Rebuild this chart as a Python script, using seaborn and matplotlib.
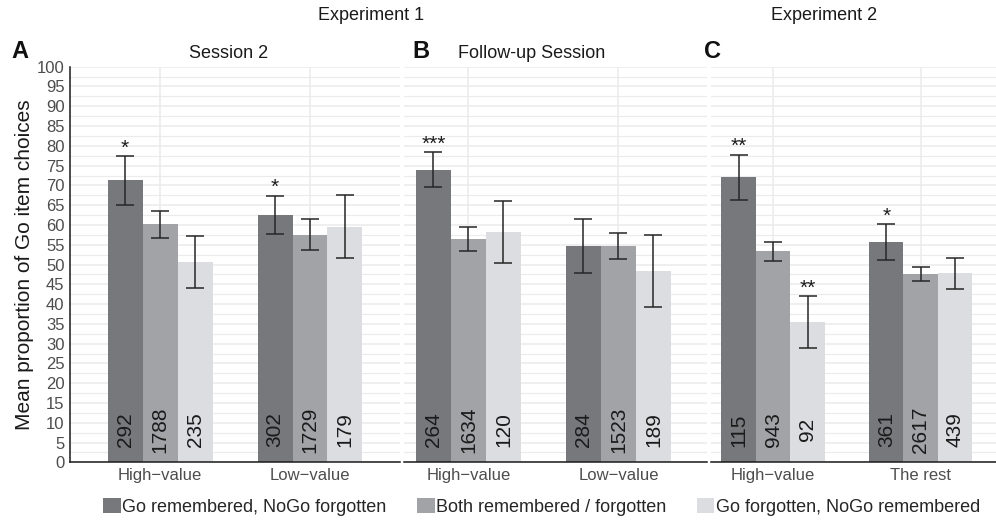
import numpy as np
import pandas as pd
import matplotlib
matplotlib.use('Agg')
import matplotlib.pyplot as plt
from matplotlib.patches import Patch
import seaborn as sns

# --- data ---
conditions = ["Go remembered, NoGo forgotten",
              "Both remembered / forgotten",
              "Go forgotten, NoGo remembered"]
bar_colors = ["#77787c", "#a2a3a7", "#dcdde0"]

groups_exp1 = ["High\u2212value", "Low\u2212value"]
groups_exp2 = ["High\u2212value", "The rest"]

# rows = condition, columns = group
session2_means = [[71.3, 62.5], [60.2, 57.5], [50.6, 59.6]]
session2_err = [[6.2, 4.9], [3.4, 3.9], [6.5, 8.0]]
session2_n = [[292, 302], [1788, 1729], [235, 179]]
session2_stars = [["*", "*"], ["", ""], ["", ""]]

followup_means = [[74.0, 54.7], [56.4, 54.7], [58.3, 48.4]]
followup_err = [[4.5, 6.9], [3.1, 3.3], [7.8, 9.1]]
followup_n = [[264, 284], [1634, 1523], [120, 189]]
followup_stars = [["***", ""], ["", ""], ["", ""]]

exp2_means = [[72.1, 55.7], [53.4, 47.6], [35.5, 47.8]]
exp2_err = [[5.7, 4.6], [2.4, 1.7], [6.5, 3.9]]
exp2_n = [[115, 361], [943, 2617], [92, 439]]
exp2_stars = [["**", "*"], ["", ""], ["**", ""]]

sns.set_style("white")
plt.rcParams['font.family'] = ['Liberation Sans', 'DejaVu Sans']

GRID = "#ebebeb"
TICK_GREY = "#4d4d4d"


def draw_panel(ax, groups, means, errs, counts, stars, xlim, show_y):
    rows = []
    for ci, cond in enumerate(conditions):
        for gi, g in enumerate(groups):
            rows.append({"group": g, "condition": cond, "value": means[ci][gi]})
    df = pd.DataFrame(rows)

    sns.barplot(data=df, x="group", y="value", hue="condition",
                order=groups, hue_order=conditions, palette=bar_colors,
                saturation=1, width=0.7, errorbar=None, legend=False,
                linewidth=0, ax=ax)

    bar_containers = list(ax.containers)
    for ci, cont in enumerate(bar_containers):
        for gi, bar in enumerate(cont):
            xc = bar.get_x() + bar.get_width() / 2
            m = means[ci][gi]
            e = errs[ci][gi]
            ax.errorbar(xc, m, yerr=e, fmt="none", ecolor="#262626",
                        elinewidth=1.1, capsize=6.5, capthick=1.1, zorder=4)
            ax.text(xc, 8.2, str(counts[ci][gi]), rotation=90,
                    ha="center", va="center", fontsize=15, color="#1a1a1a",
                    zorder=5)
            if stars[ci][gi]:
                ax.text(xc, m + e + 0.6, stars[ci][gi], ha="center",
                        va="baseline", fontsize=15, color="#1a1a1a",
                        zorder=5)

    ax.set_xlim(*xlim)
    ax.set_ylim(0, 100)
    ax.set_yticks(np.arange(0, 101, 5))
    ax.set_yticks(np.arange(2.5, 100, 5), minor=True)
    ax.set_axisbelow(True)
    ax.grid(which="major", axis="both", color=GRID, linewidth=1.1)
    ax.grid(which="minor", axis="y", color=GRID, linewidth=0.8)
    ax.tick_params(which="minor", length=0)
    ax.tick_params(axis="x", length=3, color="#333333", labelsize=12,
                   labelcolor=TICK_GREY, pad=1)
    ax.set_xlabel("")
    sns.despine(ax=ax, top=True, right=True, left=not show_y)
    ax.spines["bottom"].set_color("#1a1a1a")
    ax.spines["bottom"].set_linewidth(1.1)
    if show_y:
        ax.spines["left"].set_color("#1a1a1a")
        ax.spines["left"].set_linewidth(1.1)
        ax.tick_params(axis="y", length=3, color="#333333", labelsize=12,
                       labelcolor=TICK_GREY, pad=1)
        ax.set_ylabel("Mean proportion of Go item choices", fontsize=15,
                      color="#1a1a1a", labelpad=2)
    else:
        ax.tick_params(axis="y", length=0, labelleft=False)
        ax.set_ylabel("")


fig = plt.figure(figsize=(9.96, 5.24), dpi=100)
ax_a = fig.add_axes([0.0703, 0.1177, 0.3313, 0.755])
ax_b = fig.add_axes([0.4056, 0.1177, 0.3042, 0.755])
ax_c = fig.add_axes([0.7139, 0.1177, 0.2861, 0.755])

draw_panel(ax_a, groups_exp1, session2_means, session2_err, session2_n,
           session2_stars, (-0.6, 1.6), True)
draw_panel(ax_b, groups_exp1, followup_means, followup_err, followup_n,
           followup_stars, (-0.43, 1.59), False)
draw_panel(ax_c, groups_exp2, exp2_means, exp2_err, exp2_n,
           exp2_stars, (-0.42, 1.51), False)

# headings
fig.text(371 / 996, 1 - 16 / 524, "Experiment 1", ha="center", va="center",
         fontsize=13, color="#1a1a1a")
fig.text(824 / 996, 1 - 16 / 524, "Experiment 2", ha="center", va="center",
         fontsize=13, color="#1a1a1a")
fig.text(229 / 996, 1 - 54 / 524, "Session 2", ha="center", va="center",
         fontsize=13, color="#1a1a1a")
fig.text(532 / 996, 1 - 54 / 524, "Follow-up Session", ha="center",
         va="center", fontsize=13, color="#1a1a1a")
for lbl, xp in [("A", 20), ("B", 421), ("C", 712)]:
    fig.text(xp / 996, 1 - 52 / 524, lbl, ha="center", va="center",
             fontsize=17, fontweight="bold", color="#111111")

handles = [Patch(facecolor=c, edgecolor="none") for c in bar_colors]
fig.legend(handles, conditions, loc="center", ncol=3,
           bbox_to_anchor=(542 / 996, 1 - 507 / 524), frameon=False,
           fontsize=13, handlelength=0.95, handleheight=0.9,
           handletextpad=0.1, columnspacing=1.7, borderaxespad=0,
           borderpad=0)

fig.savefig("out.png", dpi=100)
